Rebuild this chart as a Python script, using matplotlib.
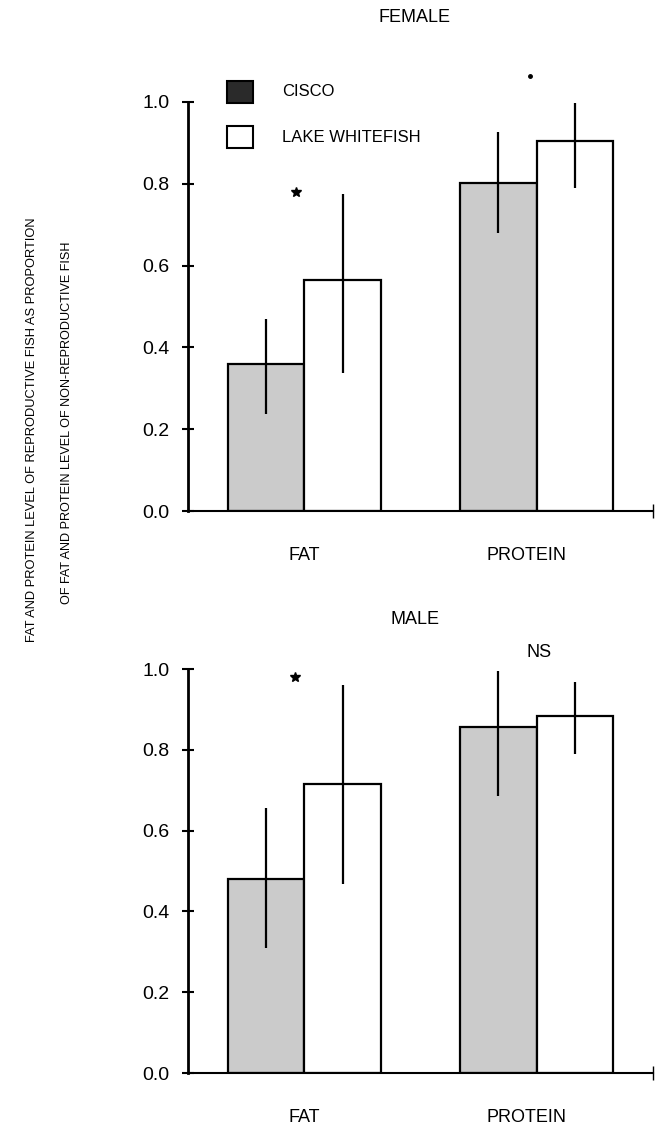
import numpy as np
import matplotlib
matplotlib.use('Agg')
import matplotlib.pyplot as plt
import matplotlib.transforms as mtransforms
from matplotlib import font_manager
from matplotlib.patches import Rectangle

# font: narrow sans if present (the scan uses a condensed Helvetica)
names = {f.name for f in font_manager.fontManager.ttflist}
fam = 'Liberation Sans Narrow' if 'Liberation Sans Narrow' in names else 'Liberation Sans'
plt.rcParams['font.family'] = [fam, 'DejaVu Sans']

# data
categories = ['FAT', 'PROTEIN']
species = ['CISCO', 'LAKE WHITEFISH']
panels = ['FEMALE', 'MALE']

# mean proportion per panel, rows = species, cols = category
female_mean = [[0.36, 0.803], [0.565, 0.905]]
female_low = [[0.237, 0.68], [0.337, 0.79]]
female_high = [[0.47, 0.927], [0.775, 0.998]]

male_mean = [[0.48, 0.857], [0.715, 0.884]]
male_low = [[0.309, 0.686], [0.468, 0.79]]
male_high = [[0.656, 0.995], [0.96, 0.968]]

# significance marks: (x in category units, y, text)
female_marks = [(-0.034, 0.78, '*'), (0.97, 1.064, '.')]
male_marks = [(-0.04, 0.98, '*'), (1.01, 1.04, 'NS')]

yticks = [0.0, 0.2, 0.4, 0.6, 0.8, 1.0]
bar_colors = ['#cbcbcb', 'white']

W, H = 663, 1125
fig = plt.figure(figsize=(W / 100, H / 100), dpi=100)

ax_specs = [
    (panels[0], female_mean, female_low, female_high, female_marks, 511, 102, 18),
    (panels[1], male_mean, male_low, male_high, male_marks, 1073, 669, 619),
]

width = 0.33
x = np.arange(len(categories))

for title, mean, low, high, marks, ybot, ytop, ytitle in ax_specs:
    ax = fig.add_axes([188 / W, 1 - ybot / H, 465 / W, (ybot - ytop) / H])
    for s in range(2):
        m = np.array(mean[s])
        lo = m - np.array(low[s])
        hi = np.array(high[s]) - m
        xs = x + (s - 0.5) * width
        ax.bar(xs, m, width, color=bar_colors[s], edgecolor='black',
               linewidth=1.6, zorder=2)
        ax.errorbar(xs, m, yerr=[lo, hi], fmt='none', ecolor='black',
                    elinewidth=1.6, capsize=0, zorder=3)
    for dx, yy, txt in marks:
        if txt == '*':
            ax.plot(dx, yy, marker='*', color='black', markersize=7,
                    clip_on=False)
        elif txt == '.':
            ax.plot(dx, yy, marker='o', color='black', markersize=2.5,
                    clip_on=False)
        else:
            ax.text(dx, yy, txt, ha='center', va='center', fontsize=13)

    ax.set_xlim(-0.5, 1.5)
    ax.set_ylim(0, 1.0)
    ax.set_yticks(yticks)
    ax.set_yticklabels(['%.1f' % v for v in yticks], fontsize=14)
    ax.tick_params(axis='y', direction='inout', length=9, width=1.5, pad=9)
    ax.set_xticks(x)
    ax.set_xticklabels(categories, fontsize=13)
    ax.tick_params(axis='x', length=0, pad=26)
    # PROTEIN label sits a bit left of its group in the original
    lbl = ax.get_xticklabels()[1]
    lbl.set_transform(lbl.get_transform() +
                      mtransforms.ScaledTranslation(-10 / 100, 0, fig.dpi_scale_trans))
    for sp in ['top', 'right']:
        ax.spines[sp].set_visible(False)
    ax.spines['left'].set_linewidth(2)
    ax.spines['bottom'].set_linewidth(1.5)
    # small end tick on the x axis
    ax.plot([1.5], [0], marker='|', markersize=10, color='black',
            clip_on=False)
    fig.text(415 / W, 1 - ytitle / H, title, fontsize=13,
             ha='center', va='center')

# legend drawn as patches in figure pixels
for i, (lab, col) in enumerate(zip(species, ['#2a2a2a', 'white'])):
    yc = [92, 137][i]
    fig.patches.append(Rectangle((227 / W, 1 - (yc + 11) / H), 26 / W, 22 / H,
                                 transform=fig.transFigure, facecolor=col,
                                 edgecolor='black', linewidth=1.5))
    fig.text(282 / W, 1 - yc / H, lab, fontsize=12, va='center', ha='left')

# y label, two lines
fig.text(32 / W, 1 - 430 / H,
         'FAT AND PROTEIN LEVEL OF REPRODUCTIVE FISH AS PROPORTION',
         rotation=90, ha='center', va='center', fontsize=9.3)
fig.text(67 / W, 1 - 423 / H,
         'OF FAT AND PROTEIN LEVEL OF NON-REPRODUCTIVE FISH',
         rotation=90, ha='center', va='center', fontsize=9.1)

fig.savefig('out.png', dpi=100)
